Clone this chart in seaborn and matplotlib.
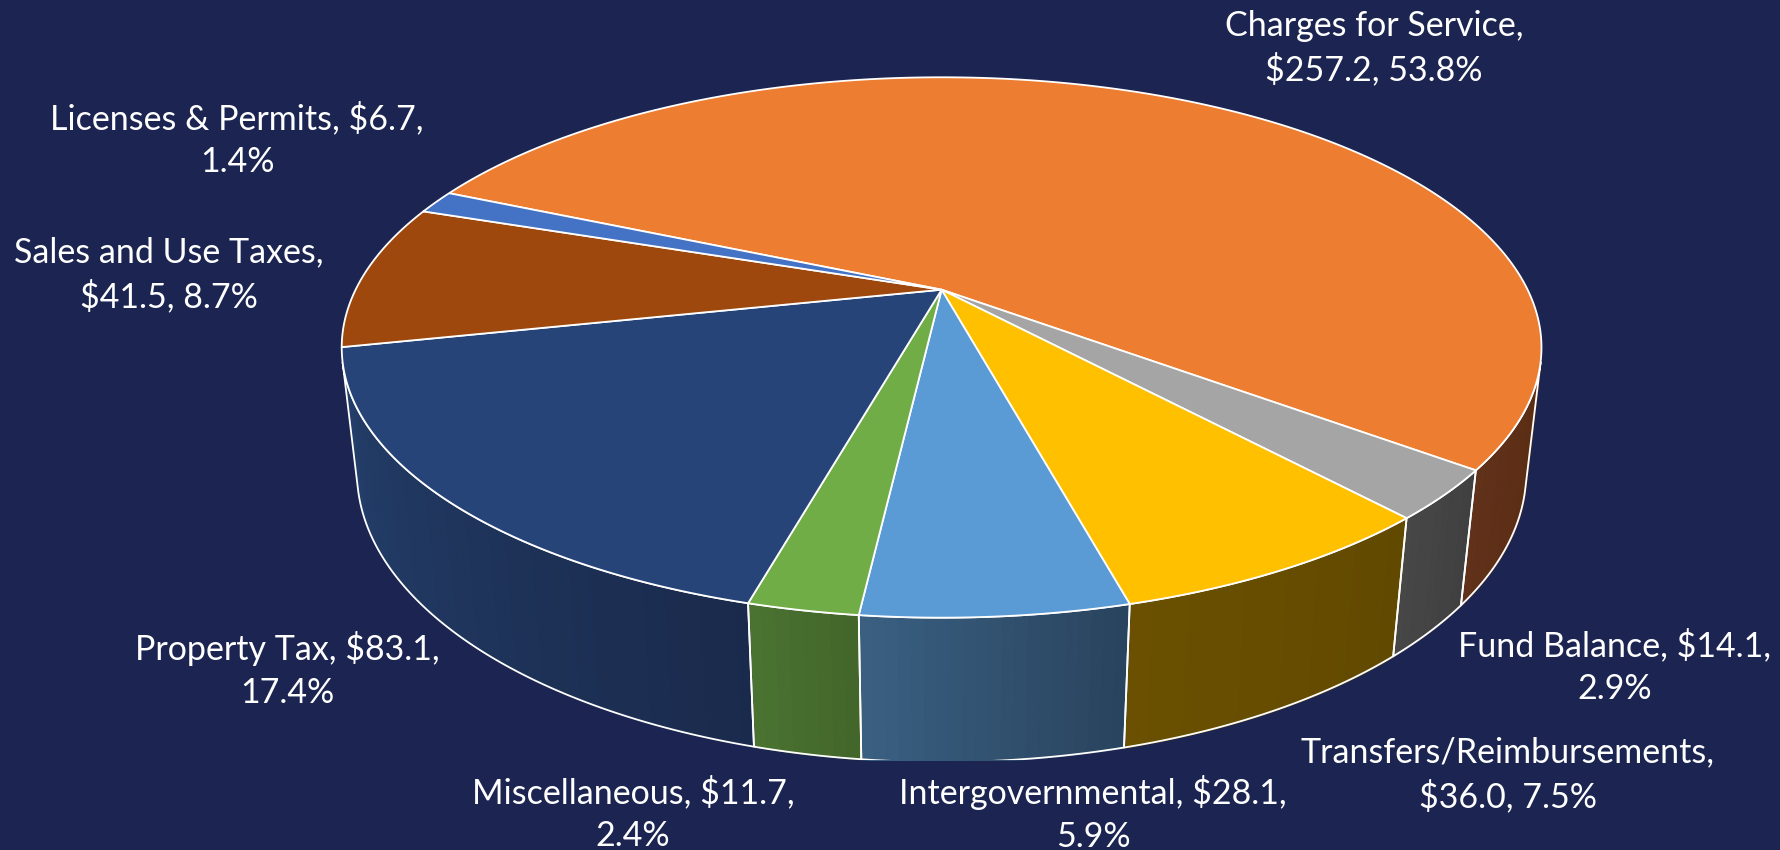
import numpy as np
import matplotlib
matplotlib.use("Agg")
import matplotlib.pyplot as plt
import seaborn as sns
from matplotlib.transforms import Transform
from matplotlib.path import Path

# ---------------- data ----------------
categories = ["Charges for Service", "Fund Balance", "Transfers/Reimbursements",
              "Intergovernmental", "Miscellaneous", "Property Tax",
              "Sales and Use Taxes", "Licenses & Permits"]
values = [257.2, 14.1, 36.0, 28.1, 11.7, 83.1, 41.5, 6.7]
percents = [53.8, 2.9, 7.5, 5.9, 2.4, 17.4, 8.7, 1.4]
# where each data label wraps: 0 = after the name, 1 = after the dollar value
label_wrap = [0, 1, 0, 1, 1, 1, 0, 1]

# ---------------- style ----------------
BG = "#1c2552"
top_colors = ["#ED7D31", "#A5A5A5", "#FFC000", "#5B9BD5", "#70AD47",
              "#264478", "#9E480E", "#4472C4"]
side_light = ["#61311a", "#474747", "#6a5000", "#3a6082", "#4b7432",
              "#24406c", "#5a2a08", "#2a4578"]
side_dark = ["#5a2d12", "#404040", "#614900", "#29435d", "#426529",
             "#1a2a4c", "#4a2206", "#223a66"]

W, H = 1781, 850
CLIP_Y = 760                      # bottom of plot area (pixels from top)
CX, CY, SCALE = 941.6, 289.7, 586.0
SIN_E = 0.44
COS_E = np.sqrt(1 - SIN_E ** 2)
FOC = 4.2
DEPTH = 0.238
START = 156.0

sns.set_theme(style="white")
plt.rcParams["font.family"] = ["Lato", "DejaVu Sans"]


def project(x, y, z):
    v = y * SIN_E + z * COS_E
    d = y * COS_E - z * SIN_E
    f = FOC / (FOC + d)
    return np.column_stack([CX + SCALE * x * f, CY - SCALE * v * f])


class _Proj(Transform):
    input_dims = 2
    output_dims = 2
    is_separable = False
    has_inverse = False

    def _world(self, p):
        raise NotImplementedError

    def transform_non_affine(self, values):
        arr = np.asarray(values, float)
        single = arr.ndim == 1
        arr = arr.reshape(-1, 2)
        out = project(*self._world(arr))
        return out[0] if single else out

    def transform_path_non_affine(self, path):
        pts = []
        for seg, code in path.iter_bezier():
            if seg.degree <= 1:
                pts.append(np.atleast_2d(seg.control_points))
            else:
                pts.append(seg(np.linspace(0, 1, 60)))
        pts = np.concatenate(pts)
        return Path(self.transform_non_affine(pts))


class TopProj(_Proj):
    def _world(self, p):
        return p[:, 0], p[:, 1], np.zeros(len(p))


class RimProj(_Proj):
    def _world(self, p):
        t = np.radians(p[:, 0])
        return np.cos(t), np.sin(t), p[:, 1]


fig = plt.figure(figsize=(W / 100, H / 100), dpi=100, facecolor=BG)
ax = fig.add_axes([0, 1 - CLIP_Y / H, 1, CLIP_Y / H])
ax.set_facecolor(BG)

wedges, _ = ax.pie(values, colors=top_colors, startangle=START, counterclock=False,
                   wedgeprops=dict(edgecolor="white", linewidth=1.3))
ax.set_aspect("auto")

top_tr = TopProj() + ax.transData
rim_tr = RimProj() + ax.transData
for w in wedges:
    w.set_transform(top_tr)
    w.set_zorder(5)

# visible part of the outer wall
a = np.degrees(np.arcsin(1.0 / (FOC * COS_E)))
vis_lo, vis_hi = -180 + a, -a


def mix(c1, c2, f):
    r1 = np.array(matplotlib.colors.to_rgb(c1))
    r2 = np.array(matplotlib.colors.to_rgb(c2))
    return tuple(r1 * (1 - f) + r2 * f)


for w, cl, cd in zip(wedges, side_light, side_dark):
    t1, t2 = max(w.theta1, vis_lo), min(w.theta2, vis_hi)
    if t2 <= t1:
        continue
    n = max(2, int((t2 - t1) / 1.0))
    edges = np.linspace(t1, t2, n + 1)
    for i in range(n):
        col = mix(cl, cd, (i + 0.5) / n)
        th = np.linspace(edges[i], edges[i + 1], 4)
        ax.fill_between(th, -DEPTH, 0, transform=rim_tr, facecolor=col,
                        edgecolor=col, linewidth=0.8, zorder=2)
    th = np.linspace(t1, t2, 200)
    ax.fill_between(th, -DEPTH, 0, transform=rim_tr, facecolor="none",
                    edgecolor="white", linewidth=1.3, zorder=3)

ax.set_xlim(0, W)
ax.set_ylim(CLIP_Y, 0)
ax.axis("off")

# ---------------- labels ----------------
label_xy = [(1374, 48), (1615, 667), (1508, 775), (1093, 814),
            (633, 814), (287, 670), (169, 275), (237, 140)]
for cat, val, pct, wrap, (lx, ly) in zip(categories, values, percents, label_wrap, label_xy):
    if wrap == 0:
        txt = f"{cat},\n${val:.1f}, {pct:.1f}%"
    else:
        txt = f"{cat}, ${val:.1f},\n{pct:.1f}%"
    fig.text(lx / W, 1 - ly / H, txt, ha="center", va="center", ma="center",
             color="white", fontsize=24.5, linespacing=1.4)

fig.savefig("out.png", dpi=100, facecolor=BG)
